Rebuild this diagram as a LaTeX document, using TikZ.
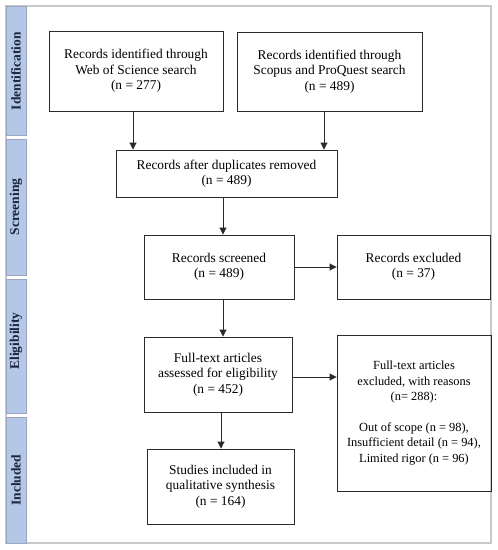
\documentclass[tikz,border=0pt]{standalone}
\usepackage{fontspec}
\setmainfont{Liberation Serif}
\usetikzlibrary{arrows.meta}
\definecolor{sidebl}{HTML}{B4C7E7}
\definecolor{sidebd}{HTML}{9AA6BE}
\definecolor{sidetx}{HTML}{1B2540}
\definecolor{framegray}{HTML}{C8C8C8}
\definecolor{boxline}{HTML}{2A2A2A}
\begin{document}
\begin{tikzpicture}[x=1pt,y=-1pt,
  box/.style={draw=boxline, line width=0.9pt, align=center, inner sep=0pt,
    font=\fontsize{13.4}{15.5}\selectfont},
  smallbox/.style={box, font=\fontsize{12.4}{15.4}\selectfont},
  arr/.style={draw=boxline, line width=0.9pt, -{Triangle[length=7pt,width=7pt]}},
  side/.style={fill=sidebl, draw=sidebd, line width=0.6pt},
  sidelbl/.style={rotate=90, inner sep=0pt, font=\fontsize{13.5}{16}\bfseries\selectfont, text=sidetx}]
\useasboundingbox[fill=white] (0,0) rectangle (498,550);
% outer frame
\draw[draw=framegray, line width=1.8pt] (6,6) rectangle (491,543);
% side bars
\draw[side] (6,6) rectangle (26,135);
\draw[side] (6,139) rectangle (26,275);
\draw[side] (6,279) rectangle (26,413);
\draw[side] (6,417) rectangle (26,543);
\node[sidelbl] (lid) at (16,71) {Identification};
\node[sidelbl] (lsc) at (16,207) {Screening};
\node[sidelbl] (lel) at (16,341) {Eligibility};
\node[sidelbl] (lin) at (16,480) {Included};
% boxes
\node[box, minimum width=174pt, minimum height=80pt] (wos) at (136,71)
  {Records identified through\\Web of Science search\\(n = 277)};
\node[box, minimum width=185pt, minimum height=79pt] (sco) at (329.5,71.5)
  {Records identified through\\Scopus and ProQuest search\\(n = 489)};
\node[box, minimum width=221pt, minimum height=47pt] (dup) at (226.5,173.5)
  {Records after duplicates removed\\(n = 489)};
\node[box, minimum width=150pt, minimum height=64pt] (scr) at (219,267)
  {Records screened\\(n = 489)};
\node[box, minimum width=153pt, minimum height=64pt] (exc) at (413.5,267)
  {Records excluded\\(n = 37)};
\node[box, minimum width=148pt, minimum height=75pt] (ft) at (218,374.5)
  {Full-text articles\\assessed for eligibility\\(n = 452)};
\node[smallbox, minimum width=154pt, minimum height=156pt] (ftx) at (414,413)
  {Full-text articles\\excluded, with reasons\\(n= 288):\\[15.4pt]Out of scope (n = 98),\\Insufficient detail (n = 94),\\Limited rigor (n = 96)};
\node[box, minimum width=147pt, minimum height=75pt] (st) at (220.5,486.5)
  {Studies included in\\qualitative synthesis\\(n = 164)};
% connectors
\draw[arr] ([xshift=-3pt]wos.south) -- ([xshift=-3pt]wos.south |- dup.north);
\draw[arr] ([xshift=-5.5pt]sco.south) -- ([xshift=-5.5pt]sco.south |- dup.north);
\draw[arr] ([xshift=4pt]scr.north |- dup.south) -- ([xshift=4pt]scr.north);
\draw[arr] (scr.east) -- (exc.west);
\draw[arr] ([xshift=4pt]scr.south) -- ([xshift=4pt]scr.south |- ft.north);
\draw[arr] ([yshift=-2.5pt]ft.east) -- ([yshift=-2.5pt]ft.east -| ftx.west);
\draw[arr] ([xshift=3pt]ft.south) -- ([xshift=3pt]ft.south |- st.north);
\end{tikzpicture}
\end{document}
